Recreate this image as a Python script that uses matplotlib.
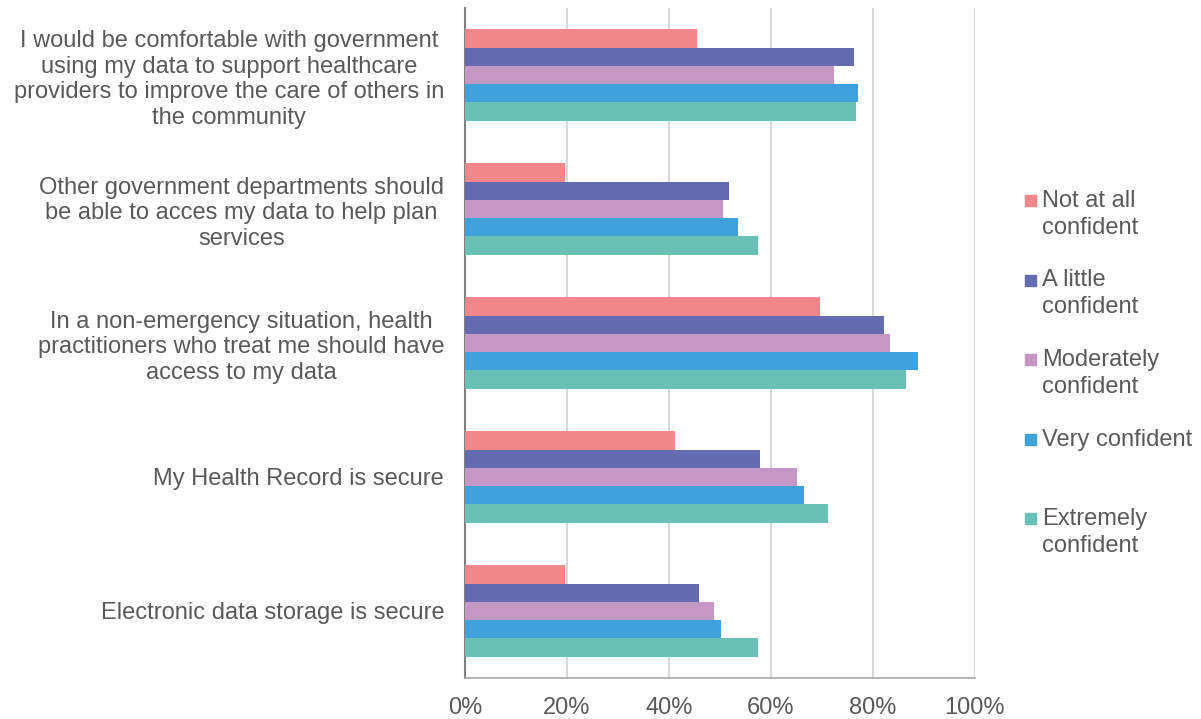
import numpy as np
import matplotlib.pyplot as plt
from matplotlib.patches import Rectangle

plt.rcParams['font.family'] = ['Liberation Sans', 'DejaVu Sans']

categories = [
    "I would be comfortable with government\nusing my data to support healthcare\nproviders to improve the care of others in\nthe community",
    "Other government departments should\nbe able to acces my data to help plan\nservices",
    "In a non-emergency situation, health\npractitioners who treat me should have\naccess to my data",
    "My Health Record is secure",
    "Electronic data storage is secure",
]
series = ["Not at all\nconfident", "A little\nconfident", "Moderately\nconfident",
          "Very confident", "Extremely\nconfident"]
not_at_all = [45.4, 19.6, 69.7, 41.1, 19.6]
a_little = [76.3, 51.7, 82.2, 57.9, 45.8]
moderately = [72.4, 50.5, 83.4, 65.0, 48.9]
very = [77.1, 53.6, 88.8, 66.5, 50.1]
extremely = [76.7, 57.5, 86.5, 71.2, 57.5]
colors = ["#F1878A", "#646BB0", "#C597C5", "#3FA2DC", "#69C1B5"]

values = [not_at_all, a_little, moderately, very, extremely]
text_col = "#595959"
fs = 17

fig = plt.figure(figsize=(12.01, 7.19), dpi=100)
ax = fig.add_axes([465 / 1201, 1 - 678 / 719, 510 / 1201, 670 / 719])

y = np.arange(len(categories))
h = 0.136
for i, (vals, col) in enumerate(zip(values, colors)):
    ax.barh(y + (i - 2) * h, vals, height=h, color=col, zorder=3)

ax.set_xlim(0, 100)
ax.set_ylim(4.5, -0.5)
ax.set_xticks(np.arange(0, 101, 20))
ax.set_xticklabels([f"{v}%" for v in range(0, 101, 20)])
ax.xaxis.grid(True, color="#D9D9D9", linewidth=1.5, zorder=0)
ax.set_yticks(y)
ax.set_yticklabels(categories, multialignment="center", linespacing=1.23)
ax.tick_params(axis="both", length=0, labelsize=fs, colors=text_col)
ax.tick_params(axis="y", pad=15)
ax.tick_params(axis="x", pad=14)
for s in ["top", "right"]:
    ax.spines[s].set_visible(False)
ax.spines["left"].set_color("#808080")
ax.spines["left"].set_linewidth(1.5)
ax.spines["bottom"].set_color("#A6A6A6")
ax.spines["bottom"].set_linewidth(1.2)

# legend
for i, (name, col) in enumerate(zip(series, colors)):
    top = 195 + i * 79.5
    fig.patches.append(Rectangle((1025 / 1201, 1 - (top + 11) / 719), 11 / 1201, 11 / 719,
                                 transform=fig.transFigure, color=col))
    fig.text(1042 / 1201, 1 - (top - 5) / 719, name, fontsize=fs, color=text_col,
             va="top", ha="left", linespacing=1.28)

fig.savefig("out.png", dpi=100)
